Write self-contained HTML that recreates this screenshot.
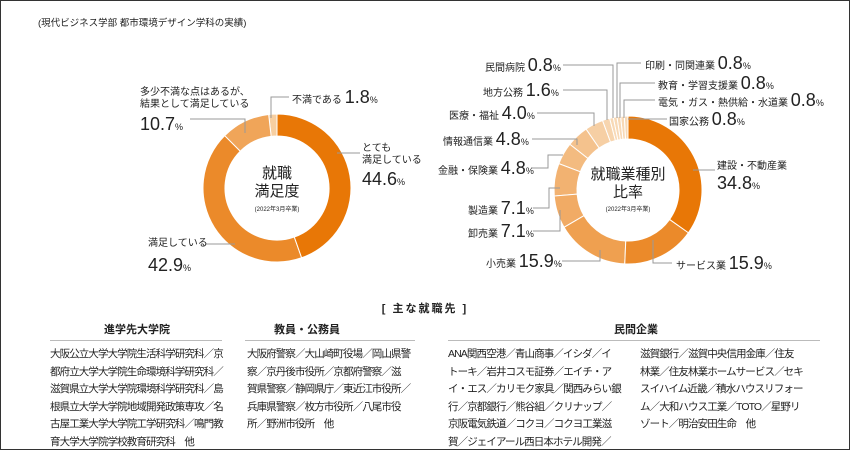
<!DOCTYPE html>
<html><head><meta charset="utf-8">
<style>
*{margin:0;padding:0;box-sizing:border-box}
body{width:850px;height:450px;background:#fff;font-family:"Liberation Sans","Noto Sans CJK JP",sans-serif;color:#222;position:relative;overflow:hidden}
#frame{position:absolute;left:0;top:0;width:850px;height:450px;border:1px solid #333}
.a{position:absolute;white-space:nowrap;line-height:1}
.s{font-size:10px}
.n{font-size:18px}
.p{font-size:9px}
.h{font-size:11px;font-weight:bold}
.col{position:absolute;top:346px;font-size:10.5px;line-height:17.6px;letter-spacing:-0.9px;white-space:nowrap}
.rule{position:absolute;top:340px;height:1px;background:#bbb}
</style></head><body>
<div id="frame"></div>
<div class="a" style="left:38px;top:19px;font-size:9.5px">(現代ビジネス学部 都市環境デザイン学科の実績)</div>
<svg width="850" height="450" style="position:absolute;left:0;top:0" id="sv">
<g fill="none" stroke="#999" stroke-width="1">
<polyline points="190,119 245,119 245,133"/>
<polyline points="289,97 271,97 271,118"/>
<polyline points="337,153 360,153"/>
<polyline points="205,244 235,244"/>
<polyline points="563,65 613,65 613,118"/>
<polyline points="563,90 607,90 607,120"/>
<polyline points="537,113 594,113 594,126"/>
<polyline points="532,139 577,139 577,145"/>
<polyline points="532,168 548,168 548,155 563,155"/>
<polyline points="533,208 549,208 549,188 560,188"/>
<polyline points="533,231 560,231 560,210"/>
<polyline points="562,261 600,261 600,250"/>
<polyline points="672,263 653,263 653,240"/>
<polyline points="693,170 715,170"/>
<polyline points="641,63 617,63 617,118"/>
<polyline points="655,83 620,83 620,118"/>
<polyline points="655,100 624,100 624,118"/>
<polyline points="667,119 628,119"/>
</g>
</svg>
<div class="a s" style="left:140px;top:87px;line-height:12px">多少不満な点はあるが、<br>結果として満足している</div>
<div class="a n" style="left:140px;top:115px">10.7<span class="p">%</span></div>
<div class="a s" style="left:292px;top:88px">不満である <span class="n">1.8</span><span class="p">%</span></div>
<div class="a s" style="left:362px;top:143px;line-height:12px">とても<br>満足している</div>
<div class="a n" style="left:362px;top:170px">44.6<span class="p">%</span></div>
<div class="a s" style="left:148px;top:239px">満足している</div>
<div class="a n" style="left:148px;top:256px">42.9<span class="p">%</span></div>
<div class="a" style="left:277px;top:165px;transform:translateX(-50%);text-align:center;font-size:15px;line-height:18px">就職<br>満足度</div>
<div class="a" style="left:277px;top:207px;transform:translateX(-50%);font-size:6px">(2022年3月卒業)</div>
<div class="a" style="left:628px;top:166px;transform:translateX(-50%);text-align:center;font-size:15px;line-height:18px">就職業種別<br>比率</div>
<div class="a" style="left:628px;top:207px;transform:translateX(-50%);font-size:6px">(2022年3月卒業)</div>
<div class="a s" style="left:485px;top:56px">民間病院 <span class="n">0.8</span><span class="p">%</span></div>
<div class="a s" style="left:483px;top:81px">地方公務 <span class="n">1.6</span><span class="p">%</span></div>
<div class="a s" style="left:449px;top:104px">医療・福祉 <span class="n">4.0</span><span class="p">%</span></div>
<div class="a s" style="left:443px;top:130px">情報通信業 <span class="n">4.8</span><span class="p">%</span></div>
<div class="a s" style="left:438px;top:159px">金融・保険業 <span class="n">4.8</span><span class="p">%</span></div>
<div class="a s" style="left:468px;top:199px">製造業 <span class="n">7.1</span><span class="p">%</span></div>
<div class="a s" style="left:468px;top:222px">卸売業 <span class="n">7.1</span><span class="p">%</span></div>
<div class="a s" style="left:486px;top:252px">小売業 <span class="n">15.9</span><span class="p">%</span></div>
<div class="a s" style="left:676px;top:254px">サービス業 <span class="n">15.9</span><span class="p">%</span></div>
<div class="a s" style="left:717px;top:162px">建設・不動産業</div>
<div class="a n" style="left:717px;top:174px">34.8<span class="p">%</span></div>
<div class="a s" style="left:645px;top:54px">印刷・同関連業 <span class="n">0.8</span><span class="p">%</span></div>
<div class="a s" style="left:658px;top:74px">教育・学習支援業 <span class="n">0.8</span><span class="p">%</span></div>
<div class="a s" style="left:658px;top:91px">電気・ガス・熱供給・水道業 <span class="n">0.8</span><span class="p">%</span></div>
<div class="a s" style="left:669px;top:110px">国家公務 <span class="n">0.8</span><span class="p">%</span></div>

<div class="a" style="left:425px;top:304px;transform:translateX(-50%);font-size:11px;font-weight:bold;letter-spacing:2px">[ 主な就職先 ]</div>
<div class="a h" style="left:137px;top:325px;transform:translateX(-50%)">進学先大学院</div>
<div class="a h" style="left:307px;top:325px;transform:translateX(-50%)">教員・公務員</div>
<div class="a h" style="left:636px;top:325px;transform:translateX(-50%)">民間企業</div>
<div class="rule" style="left:50px;width:172px"></div>
<div class="rule" style="left:245px;width:170px"></div>
<div class="rule" style="left:448px;width:372px"></div>
<div class="col" style="left:50px">大阪公立大学大学院生活科学研究科／京<br>都府立大学大学院生命環境科学研究科／<br>滋賀県立大学大学院環境科学研究科／島<br>根県立大学大学院地域開発政策専攻／名<br>古屋工業大学大学院工学研究科／鳴門教<br>育大学大学院学校教育研究科　他</div>
<div class="col" style="left:247px">大阪府警察／大山崎町役場／岡山県警<br>察／京丹後市役所／京都府警察／滋<br>賀県警察／静岡県庁／東近江市役所／<br>兵庫県警察／枚方市役所／八尾市役<br>所／野洲市役所　他</div>
<div class="col" style="left:448px">ANA関西空港／青山商事／イシダ／イ<br>トーキ／岩井コスモ証券／エイチ・ア<br>イ・エス／カリモク家具／関西みらい銀<br>行／京都銀行／熊谷組／クリナップ／<br>京阪電気鉄道／コクヨ／コクヨ工業滋<br>賀／ジェイアール西日本ホテル開発／</div>
<div class="col" style="left:640px">滋賀銀行／滋賀中央信用金庫／住友<br>林業／住友林業ホームサービス／セキ<br>スイハイム近畿／積水ハウスリフォー<br>ム／大和ハウス工業／TOTO／星野リ<br>ゾート／明治安田生命　他</div>
<script>
var sv=document.getElementById('sv'),NS='http://www.w3.org/2000/svg';
function donut(cx,cy,R,r,data){var a=0,tot=data.reduce(function(s,d){return s+d[0]},0);
data.forEach(function(d){var a0=a/tot*2*Math.PI,a1=(a+d[0])/tot*2*Math.PI;a+=d[0];
function pt(rr,t){return (cx+rr*Math.sin(t)).toFixed(2)+','+(cy-rr*Math.cos(t)).toFixed(2)}
var lg=(a1-a0)>Math.PI?1:0;
var p=document.createElementNS(NS,'path');
p.setAttribute('d','M'+pt(R,a0)+'A'+R+','+R+' 0 '+lg+' 1 '+pt(R,a1)+'L'+pt(r,a1)+'A'+r+','+r+' 0 '+lg+' 0 '+pt(r,a0)+'Z');
p.setAttribute('fill',d[1]);p.setAttribute('stroke','#fff');p.setAttribute('stroke-width','1');sv.insertBefore(p,sv.firstChild);});}
donut(277,188,74,52,[[44.6,'#e87706'],[42.9,'#eb8a2a'],[10.7,'#f0a559'],[1.8,'#f7cfa1']]);
donut(628,190,74,51,[[34.8,'#e87706'],[15.9,'#eb8a2a'],[15.9,'#efa050'],[7.1,'#f1ab65'],[7.1,'#f2b271'],[4.8,'#f3bb80'],[4.8,'#f4c28d'],[4.0,'#f6cfa4'],[1.6,'#f7d5af'],[0.8,'#f8d9b6'],[0.8,'#f8d9b6'],[0.8,'#f8d9b6'],[0.8,'#f8d9b6'],[0.8,'#f8d9b6']]);
</script>
</body></html>
